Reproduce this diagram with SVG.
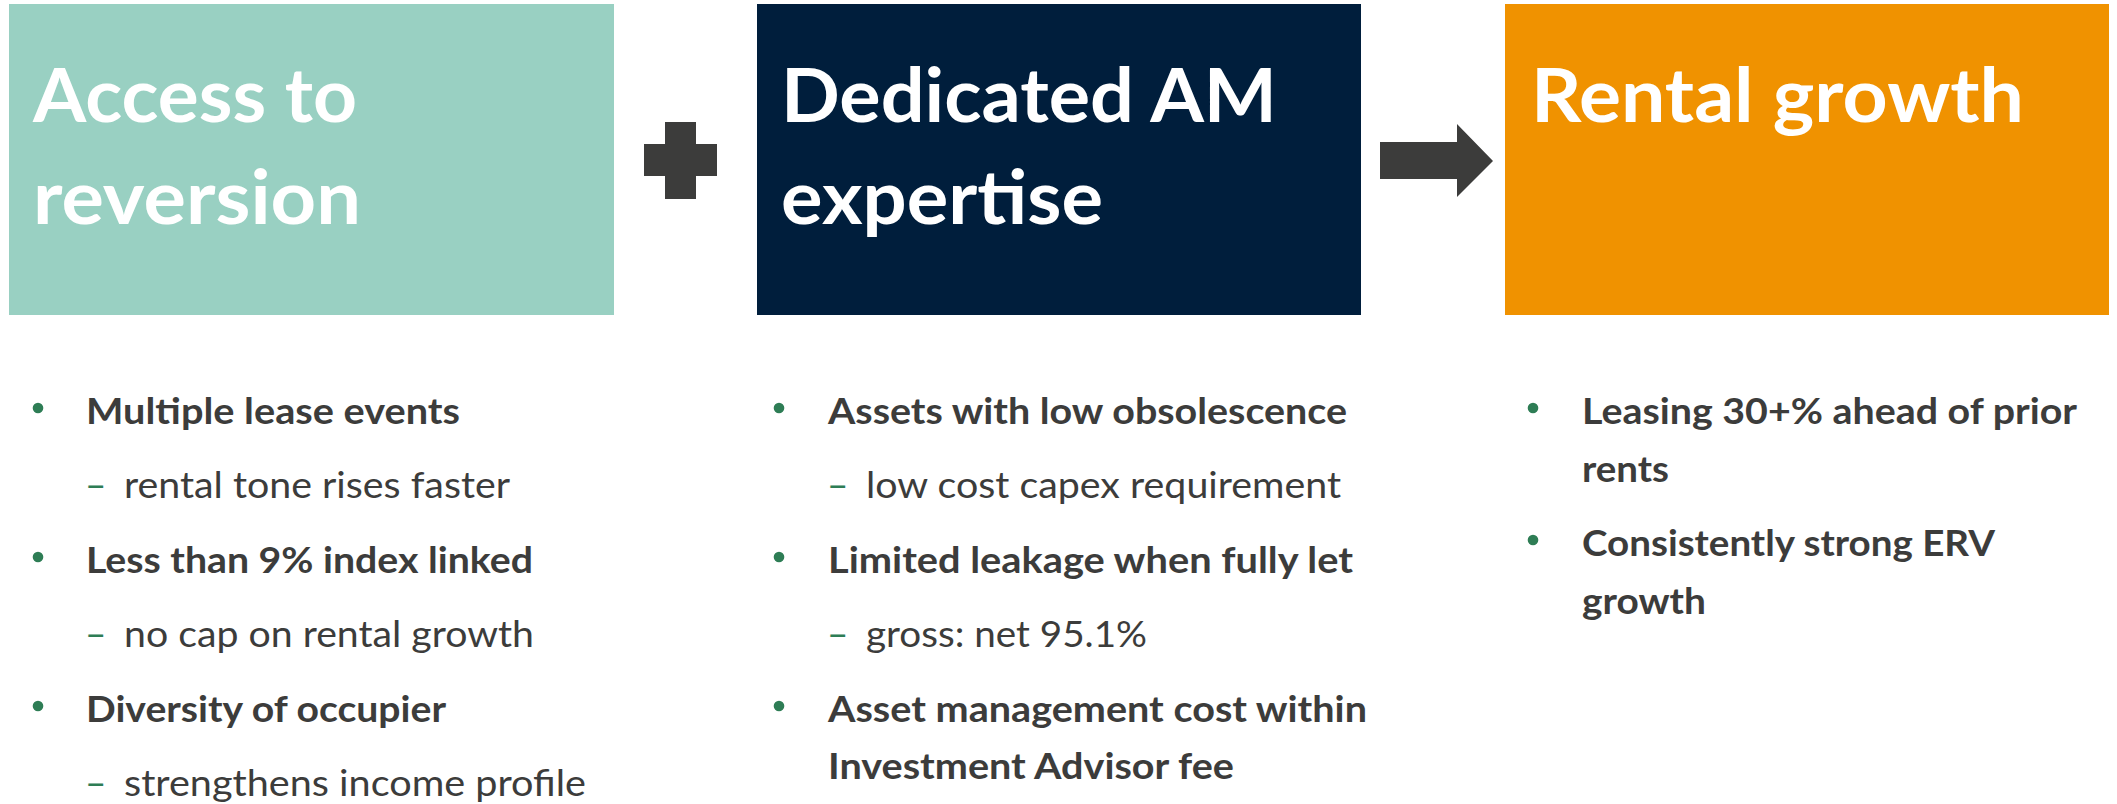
<svg xmlns="http://www.w3.org/2000/svg" width="2117" height="804" viewBox="0 0 2117 804">
<style>
.title{font-family:Lato,"Open Sans","Liberation Sans",sans-serif;font-weight:700;font-size:74px;fill:#ffffff}
.b{font-family:Lato,"Open Sans","Liberation Sans",sans-serif;font-weight:700;font-size:37px;fill:#3c3c3b}
.s{font-family:Lato,"Open Sans","Liberation Sans",sans-serif;font-weight:400;font-size:37px;fill:#3c3c3b}
.d{font-family:Lato,"Open Sans","Liberation Sans",sans-serif;font-weight:400;font-size:37px;fill:#2e7d55}
.dot{fill:#2e7d55}
.op{fill:#3c3c3b}
</style>
<rect width="2117" height="804" fill="#ffffff"/>
<g id="connectors">
  <path class="op" d="M665 122 H696 V144 H717 V176 H696 V199 H665 V176 H644 V144 H665 Z"/>
  <path class="op" d="M1380 142 H1457 V124 L1493 161 L1457 197 V179 H1380 Z"/>
</g>
<g id="node-access">
  <rect x="9" y="4" width="605" height="311" fill="#99d0c2"/>
  <text class="title" x="33" y="122" textLength="324" lengthAdjust="spacingAndGlyphs">Access to</text>
  <text class="title" x="33" y="224" textLength="328" lengthAdjust="spacingAndGlyphs">reversion</text>
</g>
<g id="node-am">
  <rect x="757" y="4" width="604" height="311" fill="#001e3c"/>
  <text class="title" x="781" y="122" textLength="496" lengthAdjust="spacingAndGlyphs">Dedicated AM</text>
  <text class="title" x="781" y="224" textLength="322" lengthAdjust="spacingAndGlyphs">expertise</text>
</g>
<g id="node-growth">
  <rect x="1505" y="4" width="604" height="311" fill="#f09200"/>
  <text class="title" x="1531" y="122" textLength="493" lengthAdjust="spacingAndGlyphs">Rental growth</text>
</g>
<g id="list-access">
  <circle class="dot" cx="38" cy="408" r="5.3"/>
  <text class="b" x="86" y="424" textLength="374" lengthAdjust="spacingAndGlyphs">Multiple lease events</text>
  <text class="d" x="85" y="498">–</text>
  <text class="s" x="124" y="498" textLength="386" lengthAdjust="spacingAndGlyphs">rental tone rises faster</text>
  <circle class="dot" cx="38" cy="557" r="5.3"/>
  <text class="b" x="86" y="573" textLength="447" lengthAdjust="spacingAndGlyphs">Less than 9% index linked</text>
  <text class="d" x="85" y="647">–</text>
  <text class="s" x="124" y="647" textLength="410" lengthAdjust="spacingAndGlyphs">no cap on rental growth</text>
  <circle class="dot" cx="38" cy="706" r="5.3"/>
  <text class="b" x="86" y="722" textLength="360" lengthAdjust="spacingAndGlyphs">Diversity of occupier</text>
  <text class="d" x="85" y="796">–</text>
  <text class="s" x="124" y="796" textLength="462" lengthAdjust="spacingAndGlyphs">strengthens income profile</text>
</g>
<g id="list-am">
  <circle class="dot" cx="779" cy="408" r="5.3"/>
  <text class="b" x="828" y="424" textLength="519" lengthAdjust="spacingAndGlyphs">Assets with low obsolescence</text>
  <text class="d" x="827" y="498">–</text>
  <text class="s" x="866" y="498" textLength="475" lengthAdjust="spacingAndGlyphs">low cost capex requirement</text>
  <circle class="dot" cx="779" cy="557" r="5.3"/>
  <text class="b" x="828" y="573" textLength="525" lengthAdjust="spacingAndGlyphs">Limited leakage when fully let</text>
  <text class="d" x="827" y="647">–</text>
  <text class="s" x="866" y="647" textLength="281" lengthAdjust="spacingAndGlyphs">gross: net 95.1%</text>
  <circle class="dot" cx="779" cy="706" r="5.3"/>
  <text class="b" x="828" y="722" textLength="539" lengthAdjust="spacingAndGlyphs">Asset management cost within</text>
  <text class="b" x="828" y="779" textLength="406" lengthAdjust="spacingAndGlyphs">Investment Advisor fee</text>
</g>
<g id="list-growth">
  <circle class="dot" cx="1533" cy="408" r="5.3"/>
  <text class="b" x="1582" y="424" textLength="495" lengthAdjust="spacingAndGlyphs">Leasing 30+% ahead of prior</text>
  <text class="b" x="1582" y="482" textLength="87" lengthAdjust="spacingAndGlyphs">rents</text>
  <circle class="dot" cx="1533" cy="540" r="5.3"/>
  <text class="b" x="1582" y="556" textLength="413" lengthAdjust="spacingAndGlyphs">Consistently strong ERV</text>
  <text class="b" x="1582" y="614" textLength="124" lengthAdjust="spacingAndGlyphs">growth</text>
</g>
</svg>
